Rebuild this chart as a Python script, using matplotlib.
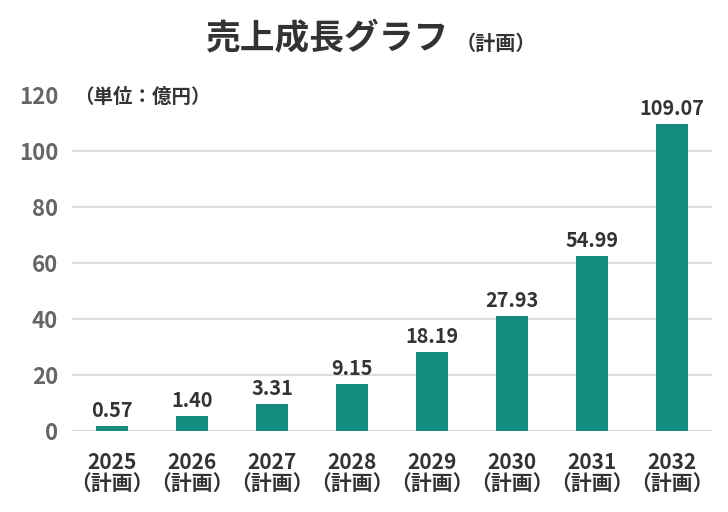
import matplotlib
matplotlib.use("Agg")
import matplotlib.pyplot as plt

plt.rcParams['font.family'] = ['Noto Sans CJK JP', 'DejaVu Sans']

years = ["2025", "2026", "2027", "2028", "2029", "2030", "2031", "2032"]
bar_heights = [1.8, 5.4, 9.6, 16.8, 28.2, 41.1, 62.5, 109.6]
value_labels = ["0.57", "1.40", "3.31", "9.15", "18.19", "27.93", "54.99", "109.07"]
yticks = [0, 20, 40, 60, 80, 100, 120]

fig = plt.figure(figsize=(7.28, 5.12), dpi=100)
ax = fig.add_axes([72/728, 1-431/512, 640/728, (431-94.6)/512])

x = list(range(len(years)))
ax.bar(x, bar_heights, width=0.4, color="#138d80", zorder=3)
for xi, h, lab in zip(x, bar_heights, value_labels):
    ax.annotate(lab, (xi, h), xytext=(0, 3.5), textcoords="offset points",
                ha="center", va="bottom", fontsize=14.3, fontweight="bold", color="#333333")

ax.set_xlim(-0.5, len(years) - 0.5)
ax.set_ylim(0, 120)
ax.set_yticks(yticks)
ax.set_yticklabels([str(v) for v in yticks], fontsize=16, fontweight="bold", color="#666666")
for v in yticks[:-1]:
    ax.axhline(v, color="#dddddd", linewidth=1.6, zorder=1)
ax.set_xticks(x)
ax.set_xticklabels([f"{y}\n（計画）" for y in years], fontsize=15, fontweight="bold",
                   color="#333333", linespacing=1.0)
ax.tick_params(axis="y", length=0, pad=10)
ax.tick_params(axis="x", length=0, pad=15)
for s in ax.spines.values():
    s.set_visible(False)

fig.text(74/728, 1-97/512, "（単位：億円）", fontsize=14,
         fontweight="bold", color="#333333", ha="left", va="center")
fig.text(449/728, 1-39/512, "売上成長グラフ", fontsize=25, fontweight="bold",
         color="#333333", ha="right", va="center")
fig.text(456/728, 1-43/512, "（計画）", fontsize=14.5, fontweight="bold",
         color="#333333", ha="left", va="center")

fig.savefig("out.png", dpi=100)
